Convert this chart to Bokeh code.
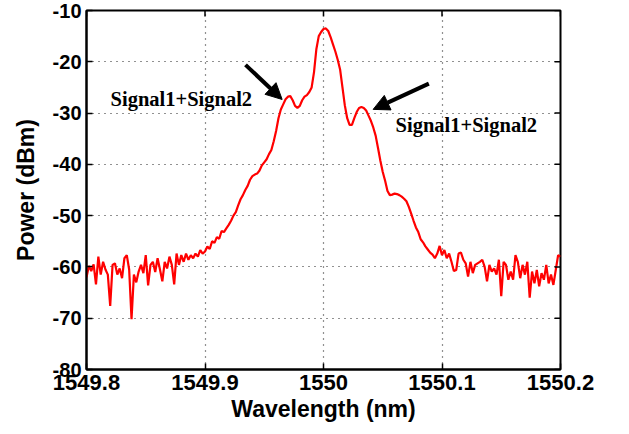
import numpy as np
from bokeh.plotting import figure
from bokeh.models import (FixedTicker, Arrow, NormalHead, Label,
                          CustomJSTickFormatter, Range1d)
from bokeh.embed import file_html
from bokeh.resources import INLINE

# ---------------- data ----------------
left_noise = [
    -62.0, -59.8, -60.8, -59.5, -63.4, -58.0, -61.5, -59.0, -60.5, -61.5,
    -67.6, -59.6, -59.3, -61.5, -60.3, -62.2, -58.3, -57.7, -60.5, -70.2,
    -61.5, -63.0, -60.9, -59.6, -61.2, -57.7, -63.6, -59.6, -59.0, -61.0,
    -58.3, -60.5, -62.8, -59.0, -60.3, -58.0, -59.6, -63.4, -57.4, -59.6,
    -57.7, -59.0, -57.4, -58.6, -57.7, -58.3, -57.4, -58.0, -56.7, -57.4,
]
central = [
    -57.0, -56.0, -56.5, -55.0, -55.3, -54.2, -54.5, -53.0, -53.2, -52.5,
    -51.8, -51.0, -50.0, -49.3, -48.0, -46.8, -46.0, -45.0, -44.2, -43.0,
    -42.3, -42.0, -41.8, -41.2, -40.2, -39.6, -39.0, -38.0, -37.2, -35.5,
    -33.5, -31.0, -29.3, -28.3, -27.3, -26.8, -26.7, -27.5, -28.6, -29.0,
    -28.6, -27.5, -26.8, -26.5, -25.9, -25.0, -22.0, -17.5, -15.0, -14.2,
    -13.6, -13.5, -14.0, -15.2, -16.6, -18.0, -19.6, -21.5, -25.0, -28.5,
    -31.0, -32.3, -32.3, -31.0, -29.8, -29.0, -28.8, -29.0, -29.5, -30.5,
    -31.5, -32.8, -34.4, -36.8, -39.3, -41.5, -43.2, -45.2, -46.0, -45.9,
    -45.7, -45.8, -46.0, -46.3, -46.7, -47.2, -48.3, -49.6, -51.0, -52.3,
    -53.2, -54.6, -55.2, -56.0, -56.6, -57.2, -57.6, -58.3,
]
right_noise = [
    -57.4, -55.9, -57.7, -56.7, -58.3, -57.4, -59.0, -60.8, -60.6, -57.4,
    -57.2, -58.6, -59.3, -61.9, -59.0, -61.2, -59.6, -59.3, -59.0, -58.6,
    -60.0, -62.8, -59.6, -60.9, -60.3, -61.5, -58.6, -65.7, -59.0, -59.6,
    -62.5, -60.9, -62.5, -57.7, -59.0, -62.2, -59.6, -61.5, -59.0, -66.0,
    -60.9, -63.2, -60.6, -63.8, -61.2, -62.5, -59.6, -63.2, -61.5, -63.5,
    -60.6, -57.7, -58.0,
]
power = left_noise + central + right_noise
wl_start = 1549.8
wl_step = 0.002
wavelength = list(np.round(wl_start + wl_step * np.arange(len(power)), 4))

x_ticks = [1549.8, 1549.9, 1550.0, 1550.1, 1550.2]
x_tick_labels = ["1549.8", "1549.9", "1550", "1550.1", "1550.2"]
y_ticks = [-80, -70, -60, -50, -40, -30, -20, -10]
y_tick_labels = ["-80", "-70", "-60", "-50", "-40", "-30", "-20", "-10"]
annotation_text = "Signal1+Signal2"

X0, X1, Y0, Y1 = 1549.8, 1550.2, -80, -10
FRAME_W, FRAME_H = 474, 359

# ---------------- figure ----------------
p = figure(width=629, height=434, output_backend="svg", toolbar_location=None,
           x_range=Range1d(X0, X1), y_range=Range1d(Y0, Y1),
           min_border_left=86, min_border_right=69, min_border_top=10,
           min_border_bottom=65)

p.line(wavelength, power, line_color="#ff0000", line_width=2.2)

p.outline_line_color = "black"
p.outline_line_width = 2
p.background_fill_color = "white"
p.border_fill_color = "white"

AX_FONT = "Liberation Sans"

xa = p.xaxis[0]
xa.ticker = FixedTicker(ticks=x_ticks)
xa.formatter = CustomJSTickFormatter(args=dict(labels=x_tick_labels),
                                     code="return labels[index];")
xa.axis_label = "Wavelength (nm)"
ya = p.yaxis[0]
ya.ticker = FixedTicker(ticks=y_ticks)
ya.formatter = CustomJSTickFormatter(args=dict(labels=y_tick_labels),
                                     code="return labels[index];")
ya.axis_label = "Power (dBm)"

for ax in (xa, ya):
    ax.major_label_text_font = AX_FONT
    ax.major_label_text_font_style = "bold"
    ax.major_label_text_color = "black"
    ax.axis_label_text_font = AX_FONT
    ax.axis_label_text_font_style = "bold"
    ax.axis_label_text_font_size = "23px"
    ax.axis_label_text_color = "black"
    ax.axis_line_width = 2
    ax.axis_line_color = "black"
    ax.major_tick_in = 6
    ax.major_tick_out = 0
    ax.major_tick_line_width = 1.5
    ax.minor_tick_line_color = None

xa.major_label_text_font_size = "22px"
ya.major_label_text_font_size = "20px"
xa.major_label_standoff = 5
ya.major_label_standoff = 5
xa.axis_label_standoff = 3
ya.axis_label_standoff = 11

# mirrored inward ticks on the top and right frame edges
tick_dy = (Y1 - Y0) * 6 / FRAME_H
tick_dx = (X1 - X0) * 6 / FRAME_W
p.segment(x0=x_ticks, y0=[Y1] * len(x_ticks), x1=x_ticks,
          y1=[Y1 - tick_dy] * len(x_ticks), line_color="black", line_width=1.5)
p.segment(x0=[X1] * len(y_ticks), y0=y_ticks, x1=[X1 - tick_dx] * len(y_ticks),
          y1=y_ticks, line_color="black", line_width=1.5)

# grid
for g in (p.xgrid[0], p.ygrid[0]):
    g.grid_line_color = "#222222"
    g.grid_line_dash = "1 5"
    g.grid_line_width = 1.2
p.xgrid[0].ticker = FixedTicker(ticks=x_ticks)
p.ygrid[0].ticker = FixedTicker(ticks=y_ticks)

# annotations
for (xs, ys, xe, ye) in [(1549.9342, -20.6, 1549.9651, -27.35),
                         (1550.0889, -24.25, 1550.0419, -29.28)]:
    p.add_layout(Arrow(end=NormalHead(size=16, fill_color="black",
                                      line_color="black", line_width=1),
                       x_start=xs, y_start=ys, x_end=xe, y_end=ye,
                       line_width=4, line_color="black"))

for (lx, ly) in [(1549.8203, -27.2), (1550.0608, -32.4)]:
    p.add_layout(Label(x=lx, y=ly, text=annotation_text,
                       text_font="Liberation Serif", text_font_style="bold",
                       text_font_size="20.5px", text_color="black",
                       text_baseline="middle", text_align="left"))

open("out.html", "w").write(file_html(p, INLINE))
